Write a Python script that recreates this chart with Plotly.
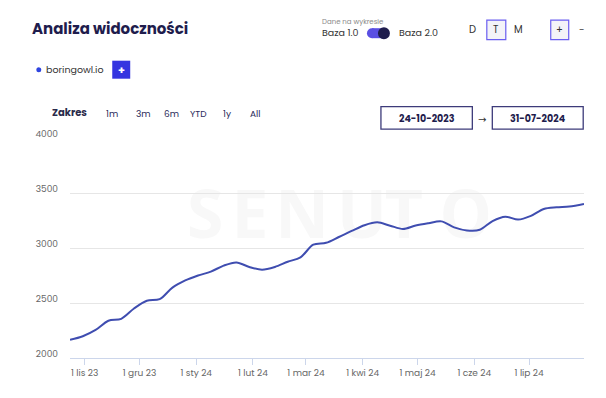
import plotly.graph_objects as go

# ---- data ----
dates = ["2023-10-24", "2023-10-31", "2023-11-07", "2023-11-14", "2023-11-21", "2023-11-28",
         "2023-12-05", "2023-12-12", "2023-12-19", "2023-12-26", "2024-01-02", "2024-01-09",
         "2024-01-16", "2024-01-23", "2024-01-30", "2024-02-06", "2024-02-13", "2024-02-20",
         "2024-02-27", "2024-03-05", "2024-03-12", "2024-03-19", "2024-03-26", "2024-04-02",
         "2024-04-09", "2024-04-16", "2024-04-23", "2024-04-30", "2024-05-07", "2024-05-14",
         "2024-05-21", "2024-05-28", "2024-06-04", "2024-06-11", "2024-06-18", "2024-06-25",
         "2024-07-02", "2024-07-09", "2024-07-16", "2024-07-23", "2024-07-31"]
visibility = [2165, 2198, 2255, 2339, 2356, 2450, 2520, 2535, 2640, 2705, 2750, 2785,
              2840, 2869, 2828, 2803, 2828, 2875, 2915, 3030, 3047, 3100, 3155, 3207,
              3233, 3203, 3173, 3204, 3225, 3242, 3188, 3160, 3166, 3245, 3285, 3258,
              3292, 3355, 3370, 3377, 3400]
series_name = "boringowl.io"
tick_dates = ["2023-11-01", "2023-12-01", "2024-01-01", "2024-02-01", "2024-03-01",
              "2024-04-01", "2024-05-01", "2024-06-01", "2024-07-01"]
tick_labels = ["1 lis 23", "1 gru 23", "1 sty 24", "1 lut 24", "1 mar 24",
               "1 kwi 24", "1 maj 24", "1 cze 24", "1 lip 24"]
y_ticks = [2000, 2500, 3000, 3500, 4000]
range_buttons = ["1m", "3m", "6m", "YTD", "1y", "All"]
date_from = "24-10-2023"
date_to = "31-07-2024"

# ---- geometry helpers (pixel -> paper) ----
W, H = 606, 398
L, R, T, B = 69.7, 21.7, 138.3, 39.7
PW, PH = W - L - R, H - T - B


def px(x):
    return (x - L) / PW


def py(y):
    return (H - B - y) / PH


FONT = "Poppins, Open Sans, sans-serif"
NAVY = "#1f1d4d"

fig = go.Figure()
fig.add_trace(go.Scatter(
    x=dates, y=visibility, mode="lines", name=series_name,
    line=dict(color="#3f4db0", width=2, shape="spline", smoothing=0.9),
    hoverinfo="x+y"))

ann = []
shapes = []


def text(x, y, s, size=11, color="#333", anchor="left", bold=False, family=FONT):
    ann.append(dict(x=px(x), y=py(y), xref="paper", yref="paper", text=s, showarrow=False,
                    xanchor=anchor, yanchor="middle",
                    font=dict(size=size, color=color, family=family,
                              weight="bold" if bold else "normal")))


# watermark letters (below the line)
for ch, cx in zip(["S", "E", "N", "U", "T", "O"], [205, 250, 302, 362, 404, 466]):
    shapes.append(dict(type="rect", xref="paper", yref="paper", layer="below",
                       x0=px(cx - 25), x1=px(cx + 25), y0=py(245), y1=py(190),
                       line=dict(width=0), fillcolor="rgba(0,0,0,0)",
                       label=dict(text=ch, textposition="middle center",
                                  font=dict(size=66, color="#f8f8f8", family="Open Sans",
                                            weight="bold"))))

# title and header
text(30, 29, "Analiza widoczności", size=15, color=NAVY, bold=True)
text(320, 22, "Dane na wykresie", size=7, color="#8a8a8a")
text(320, 33, "Baza 1.0", size=9.5, color="#333")
text(397, 33, "Baza 2.0", size=9.5, color="#333")
# toggle pill
shapes.append(dict(type="rect", xref="paper", yref="paper", x0=px(372), x1=px(385),
                   y0=py(38.5), y1=py(28.5), fillcolor="#5a4fe3", line=dict(width=0)))
shapes.append(dict(type="circle", xref="paper", yref="paper", x0=px(367), x1=px(377),
                   y0=py(38.5), y1=py(28.5), fillcolor="#5a4fe3", line=dict(width=0)))
shapes.append(dict(type="circle", xref="paper", yref="paper", x0=px(378), x1=px(390),
                   y0=py(39.5), y1=py(27.5), fillcolor="#1f1d4d", line=dict(width=0)))
# D T M
text(473, 30, "D", size=10, color="#333", anchor="center")
shapes.append(dict(type="rect", xref="paper", yref="paper", x0=px(487), x1=px(506),
                   y0=py(40), y1=py(20.5), fillcolor="#f3f3f8",
                   line=dict(color="#6a5ef0", width=1.2)))
text(496.5, 30, "T", size=10, color="#333", anchor="center")
text(519, 30, "M", size=10, color="#333", anchor="center")
shapes.append(dict(type="rect", xref="paper", yref="paper", x0=px(551), x1=px(569),
                   y0=py(40), y1=py(20.5), fillcolor="#f3f3f8",
                   line=dict(color="#6a5ef0", width=1.2)))
text(560, 30, "+", size=10, color="#333", anchor="center")
text(582, 30, "-", size=10, color="#555", anchor="center")

# legend item
shapes.append(dict(type="circle", xref="paper", yref="paper", x0=px(36), x1=px(41),
                   y0=py(72.5), y1=py(67.5), fillcolor="#2f45e0", line=dict(width=0)))
text(44, 70, series_name, size=9.5, color="#333")
shapes.append(dict(type="rect", xref="paper", yref="paper", x0=px(112), x1=px(130),
                   y0=py(79), y1=py(61), fillcolor="#3535e0", line=dict(width=0)))
text(121, 70, "+", size=11, color="#ffffff", anchor="center", bold=True)

# range selector row
text(50, 113, "Zakres", size=10, color="#2a2a4a", bold=True)
for lbl, cx in zip(range_buttons, [112, 143, 171.5, 198, 226.5, 255.5]):
    text(cx, 114, lbl, size=9, color="#2a2a5a", anchor="center")

# date boxes
shapes.append(dict(type="rect", xref="paper", yref="paper", x0=px(381), x1=px(472.5),
                   y0=py(129.5), y1=py(107), fillcolor="white",
                   line=dict(color="#3d3b7a", width=1.3)))
text(426.7, 118.5, date_from, size=9.5, color=NAVY, anchor="center", bold=True)
text(482.5, 119.5, "→", size=10, color="#333", anchor="center", family="DejaVu Sans")
shapes.append(dict(type="rect", xref="paper", yref="paper", x0=px(492.5), x1=px(583.5),
                   y0=py(129.5), y1=py(107), fillcolor="white",
                   line=dict(color="#3d3b7a", width=1.3)))
text(538, 118.5, date_to, size=9.5, color=NAVY, anchor="center", bold=True)

fig.update_layout(
    width=W, height=H,
    margin=dict(l=L, r=R, t=T, b=B),
    paper_bgcolor="white", plot_bgcolor="white",
    showlegend=False,
    annotations=ann, shapes=shapes,
    font=dict(family=FONT, color="#666"),
    xaxis=dict(type="date", range=["2023-10-24", "2024-07-31"],
               tickvals=tick_dates, ticktext=tick_labels,
               ticks="outside", ticklen=6, tickcolor="#ccd6eb", tickwidth=1,
               showline=True, linecolor="#ccd6eb", linewidth=1, showgrid=False,
               zeroline=False, tickfont=dict(size=9, color="#666"), fixedrange=True),
    yaxis=dict(range=[2000, 4000], tickvals=y_ticks, showgrid=True, gridcolor="#e6e6e6",
               gridwidth=1, zeroline=False, showline=False, ticks="",
               ticklabelstandoff=11, ticklabelshift=-4,
               tickfont=dict(size=9, color="#666"), fixedrange=True),
)

fig.write_html("out.html", config={"displayModeBar": False},
               post_script="document.body.style.margin='0';document.body.style.padding='0';")
